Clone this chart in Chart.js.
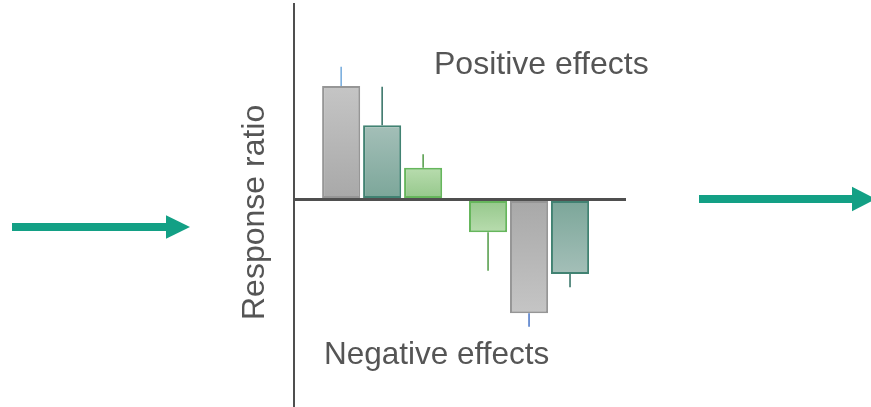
<!DOCTYPE html>
<html>
<head>
<meta charset="utf-8">
<script src="https://cdn.jsdelivr.net/npm/chart.js@4.4.1/dist/chart.umd.min.js"></script>
<style>
  html, body { margin: 0; padding: 0; background: #ffffff; }
  #wrap { width: 871px; height: 407px; position: relative; }
</style>
</head>
<body>
<div id="wrap"><canvas id="c" width="871" height="407"></canvas></div>
<script>
// ---- Data (response ratio, arbitrary units) ----
const categories = ['Positive effects', 'Negative effects'];
const axisTitle = 'Response ratio';
// three bars per group, left to right
const slot1Values = [1.135, -0.328];
const slot2Values = [0.742, -1.138];
const slot3Values = [0.318, -0.745];
// one-sided error (whisker length, pointing away from zero)
const slot1Errors = [0.193, 0.384];
const slot2Errors = [0.386, 0.134];
const slot3Errors = [0.134, 0.133];
// which colour family each bar uses
const slot1Kinds = ['gray', 'green'];
const slot2Kinds = ['teal', 'gray'];
const slot3Kinds = ['green', 'teal'];
const yMin = -2.075, yMax = 1.955;

// ---- Styles ----
const palette = {
  gray:  { light: '#c5c5c5', dark: '#a8a8a8', border: '#969696', whiskerPos: '#72a9dc', whiskerNeg: '#4673c6' },
  teal:  { light: '#a4bfb8', dark: '#7ba699', border: '#418272', whiskerPos: '#2f6e61', whiskerNeg: '#2f6e61' },
  green: { light: '#b8dcae', dark: '#94c78a', border: '#66b65c', whiskerPos: '#4f9a45', whiskerNeg: '#4f9a45' }
};
const textColor = '#555555';
const axisColor = '#4f4f4f';
const arrowColor = '#13a085';

function fillFor(kinds) {
  return (ctx) => {
    const k = palette[kinds[ctx.dataIndex]] || palette.gray;
    const chart = ctx.chart;
    if (!chart.chartArea || ctx.type !== 'data' || !ctx.parsed) return k.dark;
    const y = chart.scales.y;
    const p0 = y.getPixelForValue(0);
    const p1 = y.getPixelForValue(ctx.parsed.y);
    if (!isFinite(p0) || !isFinite(p1) || p0 === p1) return k.dark;
    const g = chart.ctx.createLinearGradient(0, p1, 0, p0);
    g.addColorStop(0, k.light);
    g.addColorStop(1, k.dark);
    return g;
  };
}
function borderFor(kinds) {
  return (ctx) => (palette[kinds[ctx.dataIndex]] || palette.gray).border;
}
function makeDataset(values, errors, kinds) {
  return {
    data: values.map((v, i) => ({ x: i, y: v })),
    errors: errors,
    kinds: kinds,
    backgroundColor: fillFor(kinds),
    borderColor: borderFor(kinds),
    borderWidth: 2,
    borderSkipped: false,
    categoryPercentage: 0.837,
    barPercentage: 0.93
  };
}

const errorBarPlugin = {
  id: 'errorBars',
  afterDatasetsDraw(chart) {
    const c = chart.ctx;
    const y = chart.scales.y;
    chart.data.datasets.forEach((ds, di) => {
      const meta = chart.getDatasetMeta(di);
      meta.data.forEach((bar, i) => {
        const v = ds.data[i].y;
        const e = ds.errors[i];
        const end = v >= 0 ? v + e : v - e;
        const k = palette[ds.kinds[i]];
        c.save();
        c.strokeStyle = v >= 0 ? k.whiskerPos : k.whiskerNeg;
        c.lineWidth = 1.5;
        c.beginPath();
        c.moveTo(bar.x, y.getPixelForValue(v));
        c.lineTo(bar.x, y.getPixelForValue(end));
        c.stroke();
        c.restore();
      });
    });
  }
};

const decorPlugin = {
  id: 'decor',
  afterDraw(chart) {
    const c = chart.ctx;
    const a = chart.chartArea;
    const y0 = chart.scales.y.getPixelForValue(0);
    c.save();
    // labels
    c.fillStyle = textColor;
    c.textBaseline = 'alphabetic';
    c.textAlign = 'left';
    c.font = '32px "Liberation Sans", Arial, sans-serif';
    c.fillText(categories[0], a.left + 140, a.top + 70);
    c.font = '31.5px "Liberation Sans", Arial, sans-serif';
    c.fillText(categories[1], a.left + 30, a.top + 360);
    // y axis title
    c.save();
    c.font = '32px "Liberation Sans", Arial, sans-serif';
    c.translate(a.left - 30, a.top + 316);
    c.rotate(-Math.PI / 2);
    c.fillText(axisTitle, 0, 0);
    c.restore();
    // arrows
    c.fillStyle = arrowColor;
    function arrow(x0, x1, yc, shaft, headLen, headH) {
      c.fillRect(x0, yc - shaft / 2, x1 - headLen - x0 + 1, shaft);
      c.beginPath();
      c.moveTo(x1 - headLen, yc - headH / 2);
      c.lineTo(x1, yc);
      c.lineTo(x1 - headLen, yc + headH / 2);
      c.closePath();
      c.fill();
    }
    arrow(12, 190, a.top + 223, 8, 24, 23.5);
    arrow(699, 876, y0 - 0.5, 8, 24, 24.5);
    c.restore();
  }
};

new Chart(document.getElementById('c'), {
  type: 'bar',
  data: {
    datasets: [
      makeDataset(slot1Values, slot1Errors, slot1Kinds),
      makeDataset(slot2Values, slot2Errors, slot2Kinds),
      makeDataset(slot3Values, slot3Errors, slot3Kinds)
    ]
  },
  options: {
    responsive: false,
    animation: false,
    events: [],
    layout: { padding: { left: 294, right: 245, top: 4, bottom: 0 } },
    plugins: { legend: { display: false }, tooltip: { enabled: false } },
    scales: {
      x: {
        type: 'linear',
        display: false,
        offset: false,
        min: -0.6,
        max: 1.66,
        afterBuildTicks: (scale) => { scale.ticks = [{ value: scale.min }, { value: scale.max }]; }
      },
      y: {
        min: yMin,
        max: yMax,
        z: 1,
        ticks: { display: false, stepSize: 0.5 },
        grid: {
          drawTicks: false,
          color: (ctx) => (ctx.tick && ctx.tick.value === 0) ? axisColor : 'rgba(0,0,0,0)',
          lineWidth: (ctx) => (ctx.tick && ctx.tick.value === 0) ? 3 : 0
        },
        border: { display: true, color: axisColor, width: 2 }
      }
    }
  },
  plugins: [errorBarPlugin, decorPlugin]
});
</script>
</body>
</html>
